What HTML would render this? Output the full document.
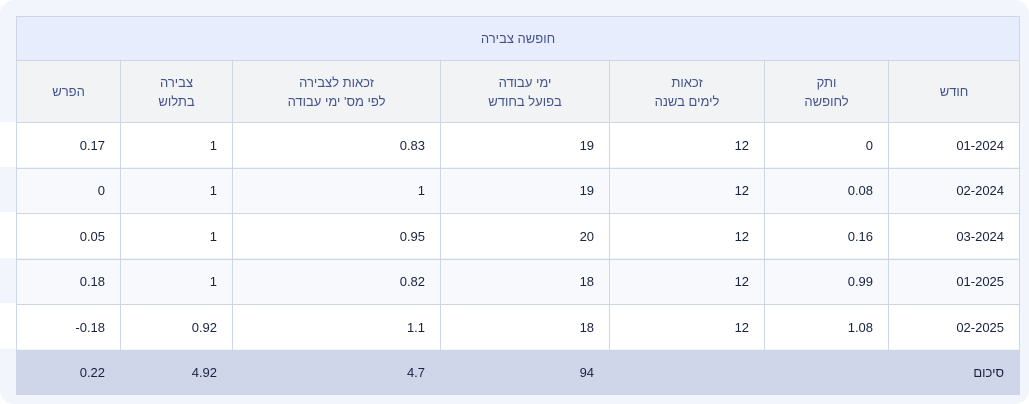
<!DOCTYPE html>
<html><head><meta charset="utf-8"><style>
body{margin:0;width:1029px;height:404px;background:#fff;font-family:"Liberation Sans","Noto Sans CJK JP",sans-serif;overflow:hidden;position:relative}
.wrap{position:absolute;left:0;top:0;width:1029px;height:404px;background:#f2f5fc;border-radius:14px}
.strip{position:absolute;left:0;width:1019px;background:#fff}
table{position:absolute;left:16px;top:16px;width:1003px;border-collapse:collapse;direction:rtl;table-layout:fixed}
td,th{border:1px solid #cdd6e3;font-size:13px;padding:0 15px;box-sizing:border-box}
th{font-weight:normal;color:#44528a;text-align:center;line-height:19px}
.title th{background:#e8edfd;height:44px}
.hdr th{background:#f2f3f5;height:62px}
td{color:#1a2440;text-align:right;height:45.5px;direction:ltr}
td.h{direction:rtl}
tr.alt td{background:#f7f9fd}
tr.tot td{background:#d0d6ea;height:44px}
</style></head><body><div class="wrap"></div>
<div class="strip" style="top:122px;height:45px"></div>
<div class="strip" style="top:212px;height:46px"></div>
<div class="strip" style="top:303px;height:46px"></div>
<table>
<colgroup><col style="width:131px"><col style="width:124px"><col style="width:155px"><col style="width:169px"><col style="width:208px"><col style="width:112px"><col style="width:104px"></colgroup>
<tr class="title"><th colspan="7">חופשה צבירה</th></tr>
<tr class="hdr"><th>חודש</th><th>ותק<br>לחופשה</th><th>זכאות<br>לימים בשנה</th><th>ימי עבודה<br>בפועל בחודש</th><th>זכאות לצבירה<br>לפי מס' ימי עבודה</th><th>צבירה<br>בתלוש</th><th>הפרש</th></tr>
<tr><td>01-2024</td><td>0</td><td>12</td><td>19</td><td>0.83</td><td>1</td><td>0.17</td></tr>
<tr class="alt"><td>02-2024</td><td>0.08</td><td>12</td><td>19</td><td>1</td><td>1</td><td>0</td></tr>
<tr><td>03-2024</td><td>0.16</td><td>12</td><td>20</td><td>0.95</td><td>1</td><td>0.05</td></tr>
<tr class="alt"><td>01-2025</td><td>0.99</td><td>12</td><td>18</td><td>0.82</td><td>1</td><td>0.18</td></tr>
<tr><td>02-2025</td><td>1.08</td><td>12</td><td>18</td><td>1.1</td><td>0.92</td><td>-0.18</td></tr>
<tr class="tot"><td class="h">סיכום</td><td></td><td></td><td>94</td><td>4.7</td><td>4.92</td><td>0.22</td></tr>
</table>
</body></html>
